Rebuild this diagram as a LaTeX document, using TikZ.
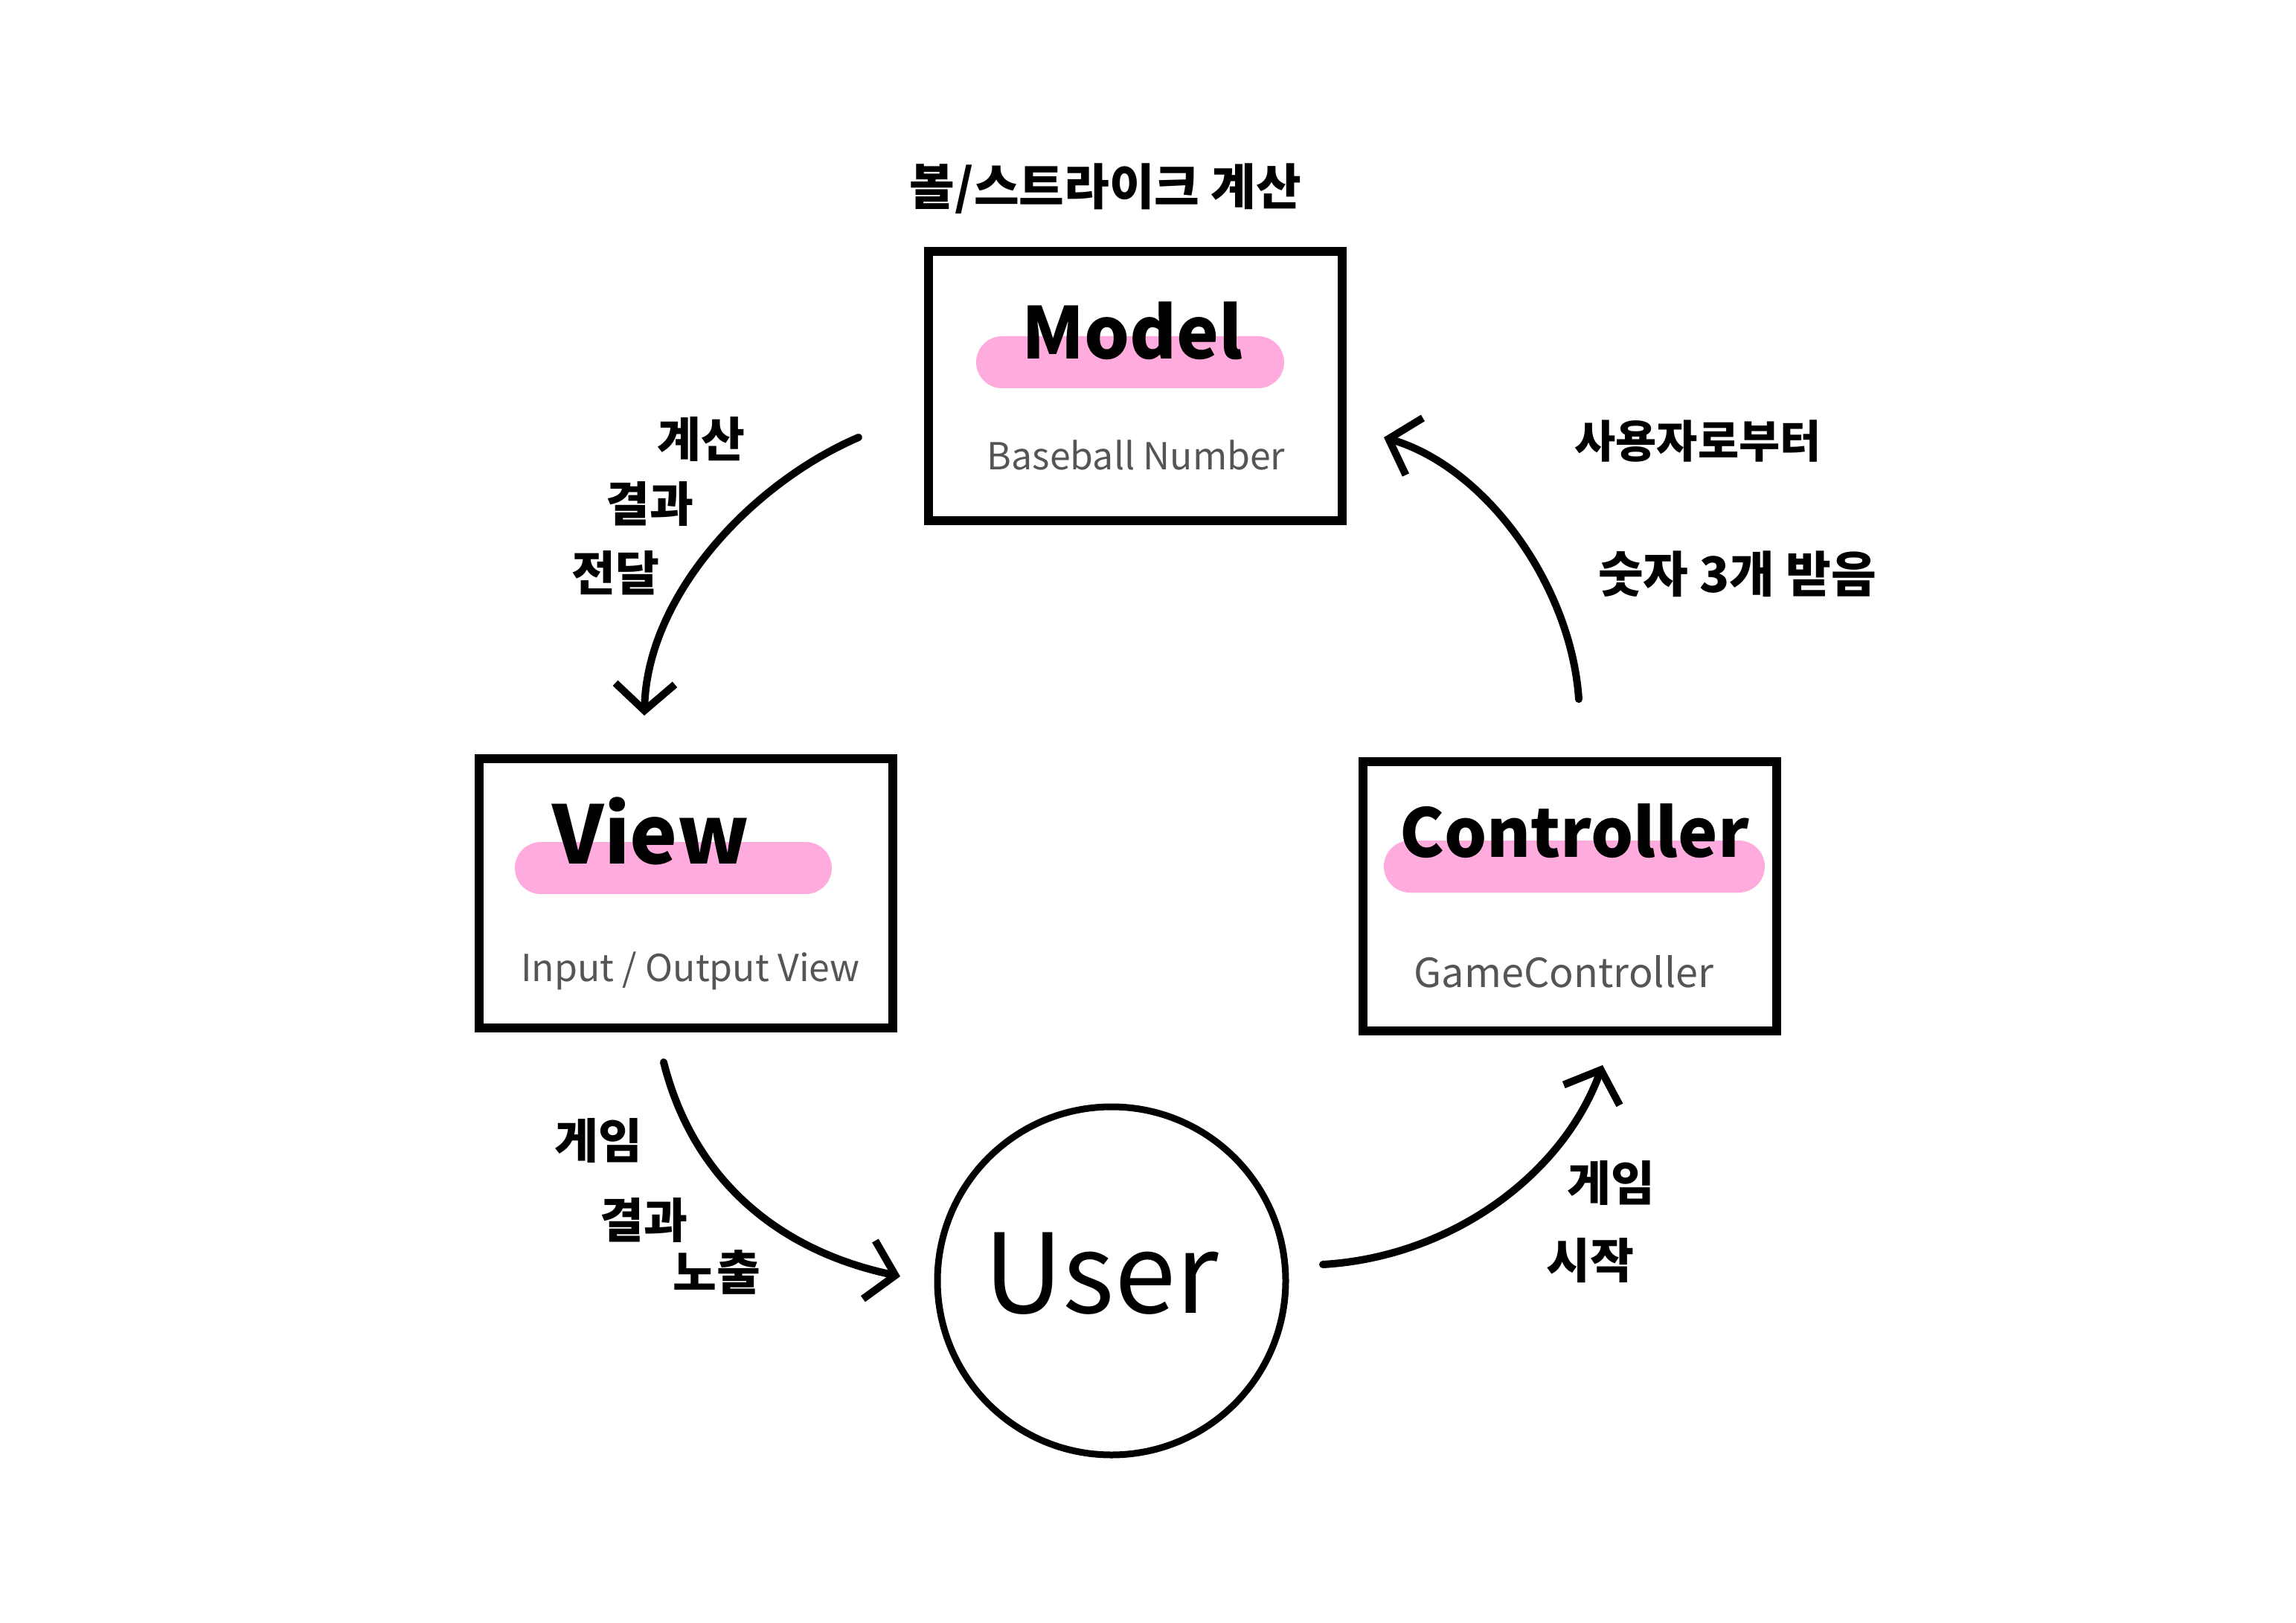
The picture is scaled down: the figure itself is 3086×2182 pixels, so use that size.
\documentclass[tikz,border=0pt]{standalone}
\usepackage{fontspec}
\setmainfont{Noto Sans CJK KR}
\usetikzlibrary{arrows.meta}
\definecolor{barpink}{RGB}{255,171,222}
\definecolor{subgray}{RGB}{85,85,85}
\begin{document}
\begin{tikzpicture}[x=0.5pt,y=-0.5pt,
  box/.style={draw=black, line width=6pt, minimum width=278pt, minimum height=181pt, inner sep=0pt},
  userc/.style={circle, draw=black, line width=4.5pt, minimum size=234pt, inner sep=0pt},
  bar/.style={fill=barpink, rounded corners=17.5pt, minimum height=35pt, inner sep=0pt},
  head/.style={font=\bfseries\fontsize{48}{56}\selectfont, inner sep=0pt},
  sub/.style={text=subgray, font=\fontsize{25}{30}\selectfont, inner sep=0pt},
  lbl/.style={font=\bfseries\fontsize{32}{38}\selectfont, inner sep=0pt},
  flow/.style={line width=5pt, line cap=round, -{Straight Barb[length=18pt,width=40pt]}}
]
\useasboundingbox (0,0) rectangle (3086,2182);
% boxes
\node[box] (model) at (1526,519) {};
\node[box] (view) at (922,1201) {};
\node[box] (ctrl) at (2110,1205) {};
\node[userc] (user) at (1494,1722) {};
% pink bars
\node[bar, minimum width=207pt] (mbar) at (1519,487) {};
\node[bar, minimum width=213pt] (vbar) at (905,1167) {};
\node[bar, minimum width=256pt] (cbar) at (2116,1165) {};
% headings
\node[head] (mtitle) at (1522,445) {Model};
\node[head, font=\bfseries\fontsize{54}{60}\selectfont] (vtitle) at (875,1117) {View};
\node[head, font=\bfseries\fontsize{45}{52}\selectfont] (ctitle) at (2116,1117) {Controller};
\node[sub] (msub) at (1527,612) {Baseball Number};
\node[sub] (vsub) at (928,1305) {Input / Output View};
\node[sub, font=\fontsize{27}{32}\selectfont] (csub) at (2102,1306) {GameController};
\node[font=\fontsize{74}{80}\selectfont, inner sep=0pt] (utext) at (1480,1712) {User};
% labels
\node[lbl, font=\bfseries\fontsize{33}{38}\selectfont] (top) at (1486,254) {볼/스트라이크 계산};
\node[lbl] (l1a) at (942,591) {계산};
\node[lbl] (l1b) at (873,678) {결과};
\node[lbl] (l1c) at (827,770) {전달};
\node[lbl, font=\bfseries\fontsize{30}{36}\selectfont] (r1a) at (2282,593) {사용자로부터};
\node[lbl, font=\bfseries\fontsize{33}{38}\selectfont] (r1b) at (2335,772) {숫자 3개 받음};
\node[lbl] (l2a) at (804,1533) {게임};
\node[lbl] (l2b) at (865,1640) {결과};
\node[lbl] (l2c) at (963,1710) {노출};
\node[lbl] (r2a) at (2165,1590) {게임};
\node[lbl] (r2b) at (2137,1695) {시작};
% arrow ends
\coordinate (a1s) at (1154,588); \coordinate (a1e) at (866,962);
\coordinate (a2s) at (2122,940); \coordinate (a2e) at (1860,588);
\coordinate (a3s) at (892,1428); \coordinate (a3e) at (1210,1716);
\coordinate (a4s) at (1778,1700); \coordinate (a4e) at (2154,1432);
\draw[flow] (a1s) .. controls (1010,650) and (870,800) .. (a1e);
\draw[flow] (a2s) .. controls (2112,790) and (2000,630) .. (a2e);
\draw[flow] (a3s) .. controls (930,1580) and (1040,1680) .. (a3e);
\draw[flow] (a4s) .. controls (1950,1690) and (2100,1580) .. (a4e);
\end{tikzpicture}
\end{document}
